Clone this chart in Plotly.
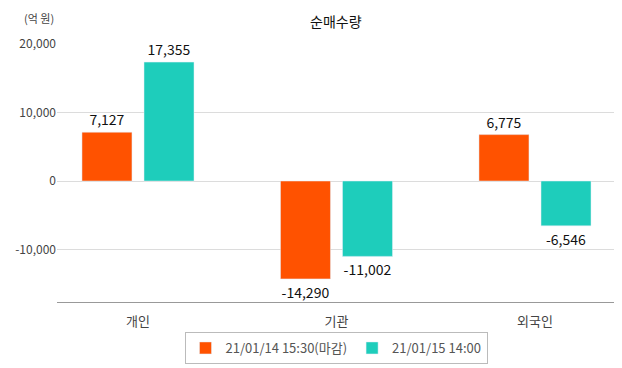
import plotly.graph_objects as go

categories = ["개인", "기관", "외국인"]
series1_name = "21/01/14 15:30(마감)"
series1_values = [7127, -14290, 6775]
series2_name = "21/01/15 14:00"
series2_values = [17355, -11002, -6546]
tick_values = [20000, 10000, 0, -10000]
tick_labels = ["20,000", "10,000", "0", "-10,000"]

FONT = "Noto Sans CJK KR"
c1 = "#FF5200"
c2 = "#1ECDBB"

x_idx = list(range(len(categories)))

fig = go.Figure()
fig.add_trace(go.Bar(
    x=x_idx, y=series1_values, name=series1_name, marker_color=c1,
    text=[f"{v:,}" for v in series1_values], textposition="outside",
    textfont=dict(size=14, color="#111", family=FONT), cliponaxis=False,
))
fig.add_trace(go.Bar(
    x=x_idx, y=series2_values, name=series2_name, marker_color=c2,
    text=[f"{v:,}" for v in series2_values], textposition="outside",
    textfont=dict(size=14, color="#111", family=FONT), cliponaxis=False,
))

# page body has an 8px margin: figure is offset by 8px right and down
W, H = 614, 360
L, T, B, R = 49, 36, 66, 8
pw = W - L - R
ph = H - T - B
PX0, PY1 = 57, 302  # plot-area left / bottom in page pixels

fig.update_layout(
    width=W, height=H,
    margin=dict(l=L, r=R, t=T, b=B, autoexpand=False),
    paper_bgcolor="white", plot_bgcolor="white",
    font=dict(family=FONT, size=12, color="#444"),
    barmode="group", bargap=0.375, bargroupgap=0.194,
    showlegend=True,
    legend=dict(orientation="h", x=(336 - PX0) / pw, xanchor="center",
                y=(PY1 - 332) / ph, yanchor="top",
                bordercolor="#bbb", borderwidth=1, bgcolor="white",
                font=dict(size=13, color="#555", family=FONT),
                tracegroupgap=0),
    annotations=[
        dict(text="순매수량", x=(336 - PX0) / pw, y=(PY1 - 9) / ph, xref="paper", yref="paper",
             showarrow=False, xanchor="center", yanchor="top",
             font=dict(size=14, color="#111", family=FONT)),
        dict(text="(억 원)", x=(39 - PX0) / pw, y=(PY1 - 8) / ph, xref="paper", yref="paper",
             showarrow=False, xanchor="center", yanchor="top",
             font=dict(size=11, color="#444", family=FONT)),
    ],
)

fig.update_xaxes(
    tickvals=x_idx, ticktext=categories,
    range=[-0.408, 2.398],
    showline=True, linecolor="#999", linewidth=1,
    showgrid=False, zeroline=False, ticks="", automargin=False,
    ticklabelstandoff=7,
    tickfont=dict(size=13, color="#444", family=FONT),
)
fig.update_yaxes(
    range=[-17660, 20000],
    tickvals=tick_values, ticktext=tick_labels,
    showgrid=True, gridcolor="#dcdcdc", gridwidth=1,
    zeroline=True, zerolinecolor="#dcdcdc", zerolinewidth=1,
    showline=False, ticks="", automargin=False,
    tickfont=dict(size=12, color="#444", family=FONT),
)

fig.write_html("out.html")
